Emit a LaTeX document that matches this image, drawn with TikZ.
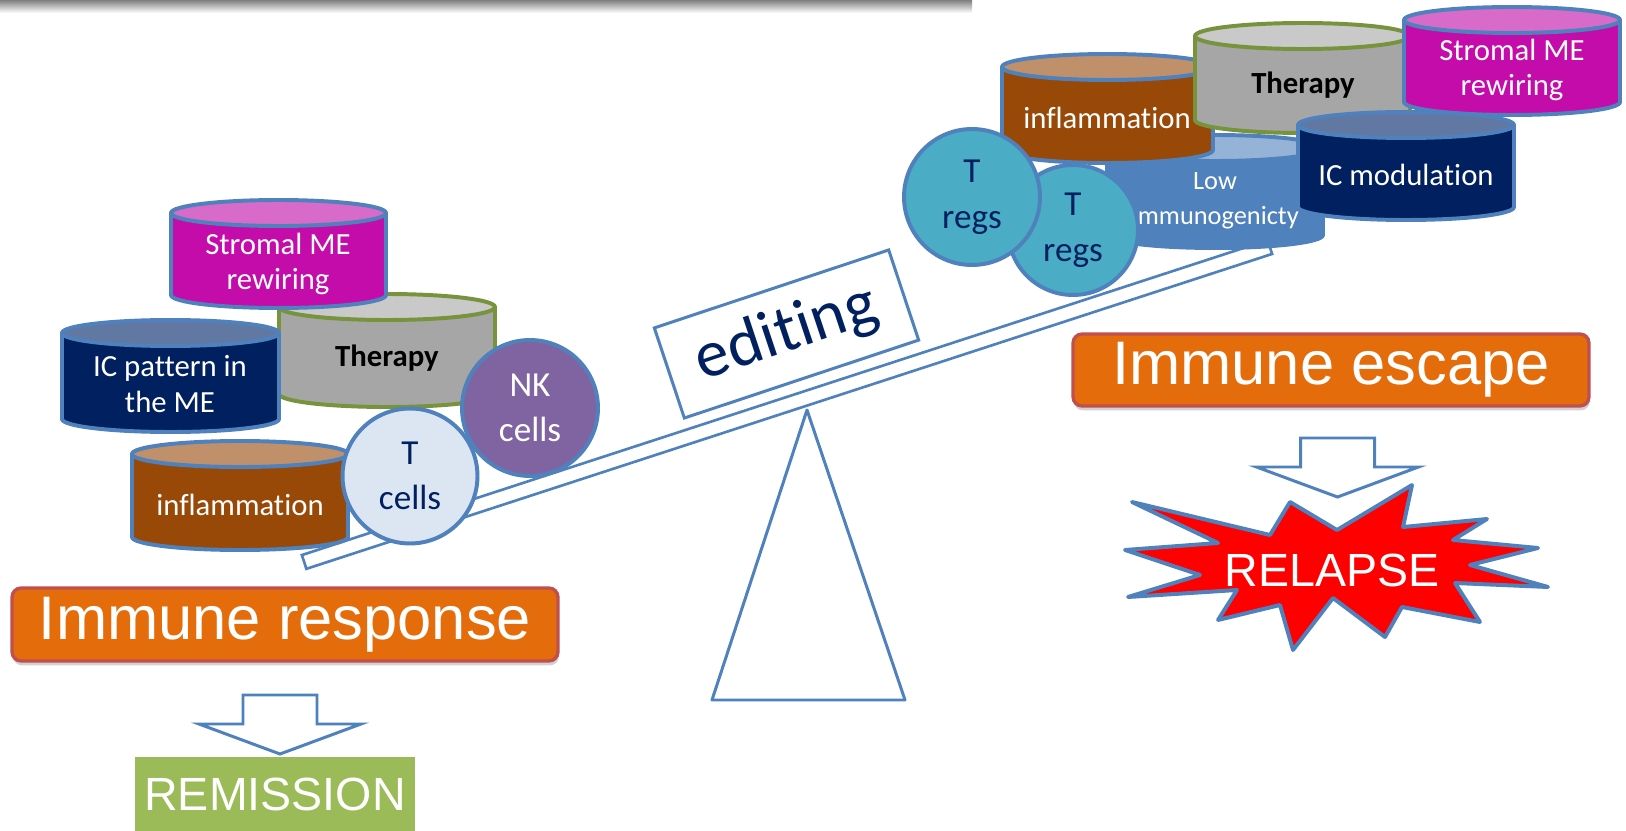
\documentclass[tikz,border=0pt]{standalone}
\usepackage{fontspec}
\setmainfont{Carlito}[Ligatures=NoCommon]
\newfontfamily\arialfont{Liberation Sans}
\usetikzlibrary{shadows}

\definecolor{edgeblue}{HTML}{4F81BD}
\definecolor{navytext}{HTML}{002060}
\definecolor{stromalbody}{HTML}{C40CAA}
\definecolor{stromallid}{HTML}{D86BC9}
\definecolor{therapygray}{HTML}{A6A6A6}
\definecolor{therapylid}{HTML}{C9C9C9}
\definecolor{therapyrim}{HTML}{77933C}
\definecolor{icnavy}{HTML}{002060}
\definecolor{icnavylid}{HTML}{6078A2}
\definecolor{inflambrown}{HTML}{984807}
\definecolor{inflamlid}{HTML}{C0906A}
\definecolor{lowblue}{HTML}{4F81BD}
\definecolor{lowlid}{HTML}{95B3D7}
\definecolor{tcellblue}{HTML}{DCE6F2}
\definecolor{nkpurple}{HTML}{8064A2}
\definecolor{tregteal}{HTML}{4BACC6}
\definecolor{boxorange}{HTML}{E46C0A}
\definecolor{boxred}{HTML}{C0504D}
\definecolor{remigreen}{HTML}{9BBB59}

\tikzset{
  rim/.style={line width=2.25pt, line join=round},
  drumtext/.style={text=white, align=center, font=\fontsize{17.5}{20}\selectfont},
  cell/.style={circle, draw=edgeblue, line width=2.25pt, inner sep=0pt,
    align=center, font=\fontsize{20}{26}\selectfont},
  outcome/.style={rounded corners=0.18cm, fill=boxorange, draw=boxred,
    line width=1.9pt, text=white, font=\arialfont\fontsize{35}{40}\selectfont,
    drop shadow={opacity=0.35, shadow xshift=0.5pt, shadow yshift=-2.5pt}},
  blockarrow/.style={fill=white, draw=edgeblue, line width=1.7pt},
}

% drum: left x, right x, lid y, base y, body, lid, rim
\newcommand{\drum}[7]{%
  \pgfmathsetmacro{\drumrx}{(#2-#1)/2}
  \pgfmathsetmacro{\drumcx}{(#2+#1)/2}
  \filldraw[fill=#5, draw=#7, rim] (#1,-#3) -- (#1,-#4)
    arc[start angle=180, end angle=360, x radius=\drumrx, y radius=13] -- (#2,-#3) -- cycle;
  \filldraw[fill=#6, draw=#7, rim] (\drumcx,-#3) ellipse[x radius=\drumrx, y radius=13];
}

% block arrow pointing down: centre x, top y
\newcommand{\downblock}[2]{%
  \filldraw[blockarrow] ({#1-37},{-#2}) -- ({#1+37},{-#2}) -- ({#1+37},{-#2-29})
    -- ({#1+81},{-#2-29}) -- ({#1},{-#2-59}) -- ({#1-81},{-#2-29})
    -- ({#1-37},{-#2-29}) -- cycle;
}

\begin{document}
\begin{tikzpicture}[x=0.02cm, y=0.02cm]
  \useasboundingbox (0,0) rectangle (1626,-831);
  \fill[white] (0,0) rectangle (1626,-831);

  % shadow of the banner above
  \shade[top color=black!50, bottom color=white] (0,0) rectangle (972,-13);

  % seesaw: fulcrum, plank and label
  \filldraw[fill=white, draw=edgeblue, line width=1.7pt, line join=round]
    (807,-410) -- (905,-700) -- (712,-700) -- cycle;
  \node[draw=edgeblue, fill=white, line width=1.5pt, rotate=18.06, inner sep=0pt,
    minimum width=20.32cm, minimum height=0.29cm] (plank) at (787,-404.5) {};
  \node[draw=edgeblue, fill=white, line width=1.7pt, rotate=18.4,
    minimum width=4.94cm, minimum height=1.9cm, text=navytext,
    font=\fontsize{38}{40}\selectfont] (edit) at (786.5,-334) {editing};

  % left pan
  \drum{279}{495}{307}{394}{therapygray}{therapylid}{therapyrim}
  \node[drumtext, text=black] (therapyL) at (387,-358) {\bfseries Therapy};
  \drum{171}{386}{213}{295}{stromalbody}{stromallid}{edgeblue}
  \node[drumtext] (stromalL) at (278,-264) {Stromal ME\\rewiring};
  \drum{62}{279}{333}{419}{icnavy}{icnavylid}{edgeblue}
  \node[drumtext] (icpattern) at (170,-384) {IC pattern in\\the ME};
  \drum{132}{348}{454}{537}{inflambrown}{inflamlid}{edgeblue}
  \node[drumtext] (inflamL) at (240,-505) {inflammation};
  \node[cell, fill=tcellblue, text=navytext, minimum size=2.7cm] (tcells) at (410,-476) {T\\cells};
  \node[cell, fill=nkpurple, text=white, minimum size=2.72cm] (nk) at (530,-408) {NK\\cells};

  % right pan
  \drum{1107}{1323}{148}{235}{lowblue}{lowlid}{edgeblue}
  \node[drumtext, font=\fontsize{15}{20}\selectfont] (lowimm) at (1215,-201) {Low\\Immunogenicty};
  \drum{1002}{1213}{67}{150}{inflambrown}{inflamlid}{edgeblue}
  \node[drumtext] (inflamR) at (1107,-118) {inflammation};
  \drum{1195}{1410}{36}{120}{therapygray}{therapylid}{therapyrim}
  \node[drumtext, text=black] (therapyR) at (1303,-85) {\bfseries Therapy};
  \drum{1404}{1620}{20}{102}{stromalbody}{stromallid}{edgeblue}
  \node[drumtext] (stromalR) at (1512,-70) {Stromal ME\\rewiring};
  \drum{1298}{1514}{125}{207}{icnavy}{icnavylid}{edgeblue}
  \node[drumtext] (icmod) at (1406,-175) {IC modulation};
  \node[cell, fill=tregteal, text=navytext, minimum size=2.6cm] (tregB) at (1073,-230) {T\\regs};
  \node[cell, fill=tregteal, text=navytext, minimum size=2.72cm] (tregA) at (972,-197) {T\\regs};

  % outcomes
  \node[outcome, minimum width=10.92cm, minimum height=1.46cm] (response) at (285,-624.5) {Immune response};
  \downblock{280}{695}
  \node[fill=remigreen, text=white, font=\arialfont\fontsize{26.5}{30}\selectfont,
    minimum width=5.6cm, minimum height=1.48cm] (remission) at (275,-794) {REMISSION};

  \node[outcome, minimum width=10.32cm, minimum height=1.44cm] (escape) at (1331,-370) {Immune escape};
  \downblock{1337.5}{438}
  \filldraw[fill=red, draw=edgeblue, line width=2.25pt, line join=round]
    (1132,-502) -- (1270,-535) -- (1290,-502) -- (1337,-530) -- (1412,-485)
    -- (1403,-527) -- (1487,-519) -- (1453,-540) -- (1538,-548) -- (1470,-565)
    -- (1548,-587) -- (1455,-583) -- (1480,-622) -- (1402,-607) -- (1385,-637)
    -- (1333,-598) -- (1293,-650) -- (1280,-605) -- (1218,-620) -- (1237,-590)
    -- (1128,-597) -- (1200,-575) -- (1125,-550) -- (1218,-543) -- cycle;
  \node[text=white, font=\arialfont\fontsize{26.5}{30}\selectfont] (relapse) at (1332,-570) {RELAPSE};
\end{tikzpicture}
\end{document}
